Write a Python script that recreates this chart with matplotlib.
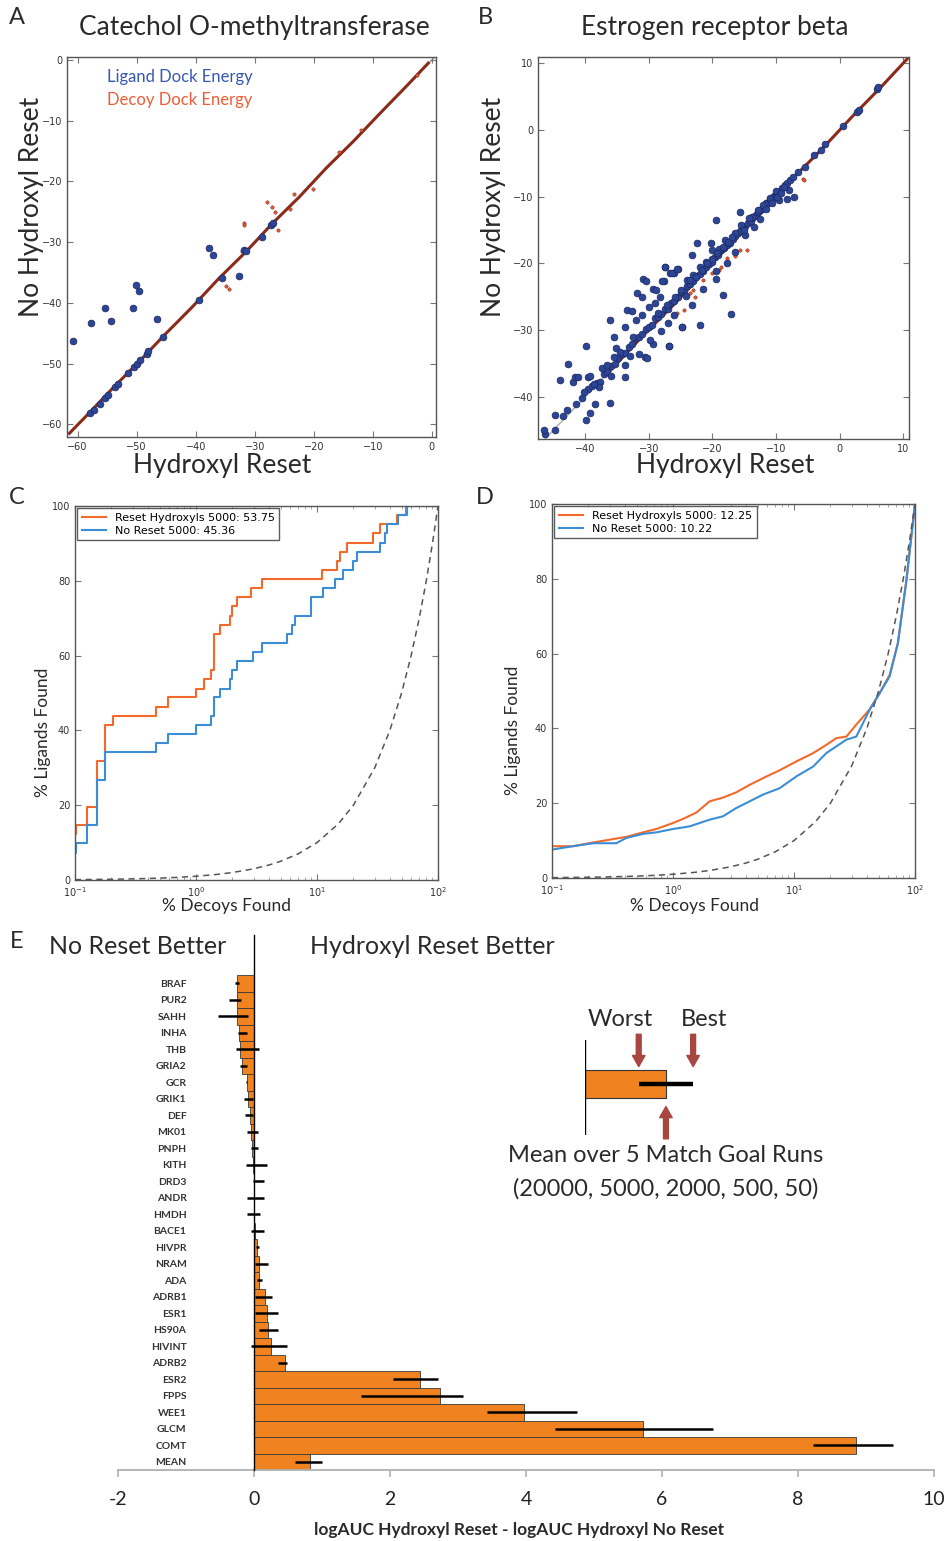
import numpy as np
import matplotlib.pyplot as plt
from matplotlib.ticker import FuncFormatter

# figure in pixels, saved at 100 dpi
W, H = 946, 1541
SANS = ['Lato', 'DejaVu Sans']

ORANGE = '#F26A2B'
BLUE = '#3B8ED6'
BAR_ORANGE = '#F0831F'
ARROW_RED = '#A84640'

# ---- A: Catechol O-methyltransferase, (hydroxyl reset, no hydroxyl reset) dock energies
comt_ligands = [(-60.85, -46.3), (-57.7, -43.3), (-55.4, -40.8), (-54.3, -43.0), (-50.7, -40.9),
                (-50.1, -37.0), (-49.6, -38.1), (-46.5, -42.7), (-37.7, -31.0), (-37.0, -32.1),
                (-32.6, -35.5), (-31.8, -31.3), (-57.9, -58.1), (-57.3, -57.6), (-56.2, -56.6),
                (-55.3, -55.7), (-54.9, -55.2), (-53.6, -53.8), (-53.1, -53.3), (-51.5, -51.6),
                (-50.5, -50.6), (-50.0, -50.1), (-49.4, -49.4), (-48.3, -48.4), (-48.0, -48.0),
                (-45.5, -45.6), (-39.4, -39.6), (-35.6, -35.9), (-31.4, -31.5), (-28.8, -29.1),
                (-27.3, -27.2), (-26.9, -26.9)]
comt_decoys_diag = [(-61.4, -61.5), (-57.8, -57.9), (-53.9, -53.9), (-49.6, -49.7), (-45.2, -45.2),
                    (-40.7, -40.8), (-36.1, -36.0), (-31.5, -31.6), (-27.0, -26.9), (-22.4, -22.5),
                    (-17.9, -17.8), (-13.3, -13.4), (-8.8, -8.8), (-4.2, -4.2), (-0.6, -0.5)]
comt_decoys_off = [(-28.0, -23.35), (-27.0, -24.2), (-26.5, -25.0), (-31.9, -26.8), (-31.9, -27.25),
                   (-26.0, -28.0), (-34.8, -37.2), (-34.3, -37.7), (-23.3, -22.0), (-20.1, -21.2),
                   (-15.7, -15.2), (-32.2, -31.5), (-24.0, -24.5), (-12.0, -11.6), (-2.5, -2.4)]

# ---- B: Estrogen receptor beta
erb_ligands = [
    # along the diagonal
    (-46.3, -45.6), (-44.8, -44.9), (-43.5, -42.8), (-41.5, -41.0), (-40.5, -40.2), (-39.6, -38.8),
    (-38.9, -38.4), (-38.2, -37.9), (-37.6, -37.8), (-37.0, -36.6), (-36.5, -36.2), (-36.0, -35.4),
    (-35.3, -35.0), (-34.8, -34.1), (-34.2, -33.5), (-33.7, -33.4), (-33.1, -32.5), (-32.6, -32.1),
    (-32.0, -31.2), (-31.5, -31.0), (-31.0, -30.6), (-30.5, -29.8), (-30.0, -29.6), (-29.5, -29.3),
    (-29.0, -28.2), (-28.5, -28.1), (-28.0, -27.6), (-27.5, -26.9), (-27.0, -26.8), (-26.5, -26.0),
    (-26.0, -25.6), (-25.4, -25.1), (-25.0, -24.3), (-24.5, -24.2), (-24.0, -23.4), (-23.5, -23.1),
    (-23.0, -22.7), (-22.5, -21.9), (-22.0, -21.6), (-21.5, -21.2), (-21.0, -20.5), (-20.6, -20.1),
    (-20.1, -19.8), (-19.6, -19.0), (-19.1, -18.8), (-18.6, -18.0), (-18.1, -17.7), (-17.7, -17.2),
    (-17.3, -16.9), (-16.8, -16.3), (-16.4, -15.9), (-16.0, -15.5), (-15.6, -15.2), (-15.2, -14.6),
    (-14.8, -14.4), (-14.4, -13.9), (-14.0, -13.6), (-13.6, -13.0), (-13.2, -12.8), (-12.8, -12.3),
    (-12.5, -12.0), (-12.2, -11.9), (-11.8, -11.4), (-11.5, -11.0), (-11.2, -10.9), (-10.9, -10.4),
    (-10.6, -10.3), (-10.3, -9.9), (-10.0, -9.7), (-9.7, -9.3), (-9.4, -9.1), (-9.0, -8.7),
    (-8.6, -8.3), (-8.2, -7.9), (-7.8, -7.5), (-7.3, -7.0), (-6.5, -6.3), (-5.5, -5.6),
    (-4.0, -3.7), (-3.0, -3.1), (-2.3, -2.2), (0.5, 0.6), (2.8, 2.6), (3.1, 3.0), (5.8, 6.1), (6.1, 6.4),
    # spread around the diagonal
    (-46.5, -44.9), (-44.7, -42.7), (-42.8, -41.9), (-42.7, -35.0), (-44.0, -37.5), (-41.9, -37.7),
    (-41.6, -37.0), (-41.1, -37.0), (-39.8, -32.4), (-39.5, -37.0), (-39.3, -36.9), (-37.4, -35.6),
    (-36.1, -28.5), (-35.4, -31.1), (-35.2, -32.7), (-33.7, -35.2), (-33.7, -37.0), (-33.7, -29.5),
    (-33.4, -27.0), (-32.7, -27.2), (-31.9, -24.5), (-31.1, -25.0), (-30.9, -22.4), (-30.4, -22.6),
    (-29.3, -23.9), (-28.8, -24.0), (-27.6, -22.6), (-27.5, -20.5), (-26.7, -21.5), (-26.1, -21.4),
    (-25.4, -20.9), (-27.2, -26.2), (-28.5, -27.5), (-27.4, -20.6), (-26.4, -21.5), (-25.6, -20.9),
    (-27.9, -22.6), (-23.2, -18.7), (-22.4, -16.9), (-20.2, -17.0), (-19.4, -13.5), (-15.6, -12.3),
    (-19.5, -21.2), (-17.7, -20.0), (-19.4, -22.4), (-18.3, -24.7), (-17.0, -27.6), (-23.2, -26.2),
    (-24.8, -29.5), (-22.0, -29.25), (-26.8, -32.35), (-21.4, -23.9), (-30.6, -34.0), (-30.2, -34.2),
    (-29.3, -32.0), (-26.8, -32.4), (-24.7, -29.5), (-16.4, -18.25), (-8.3, -10.3), (-7.2, -10.1),
    (-8.0, -9.0), (-39.9, -43.5), (-39.2, -42.4), (-38.5, -41.0), (-36.1, -40.9),
    (-32.0, -28.5), (-31.0, -27.8), (-30.0, -26.5), (-29.0, -26.0), (-28.2, -25.0), (-32.5, -31.0),
    (-29.8, -31.5), (-28.0, -30.2), (-31.5, -33.5), (-27.0, -29.0), (-26.0, -27.8), (-25.0, -24.0),
    (-24.0, -22.5), (-23.0, -21.8), (-22.0, -20.5), (-21.0, -19.8), (-20.0, -18.0), (-19.0, -17.8),
    (-18.0, -16.5), (-16.5, -15.5), (-15.5, -14.3), (-14.8, -15.8), (-13.5, -14.5), (-12.5, -13.3),
    (-11.0, -10.2), (-10.0, -9.2), (-9.5, -10.5), (-33.0, -33.8), (-34.5, -33.2), (-35.5, -34.0),
    (-36.5, -35.2), (-37.8, -38.5), (-38.6, -38.0), (-40.2, -39.2), (-36.0, -36.8), (-25.8, -25.0),
    (-24.2, -24.9), (-23.5, -22.5), (-22.6, -22.0), (-21.6, -21.0), (-20.8, -20.0), (-20.0, -19.4),
    (-19.2, -18.4), (-18.4, -17.5), (-17.6, -16.8), (-16.9, -16.0), (-13.8, -13.0), (-12.9, -12.0),
    (-12.0, -11.3), (-11.6, -11.9), (-10.6, -10.9), (-9.9, -10.0), (-9.2, -9.4), (-8.8, -8.5),
    (-14.2, -13.2), (-15.1, -15.0)]
erb_decoys_diag = [(-36.0, -36.0), (-31.2, -31.1), (-26.5, -26.6), (-21.7, -21.7), (-17.0, -16.9),
                   (-12.2, -12.3), (-7.5, -7.4), (-2.7, -2.8), (2.0, 2.0), (6.8, 6.7), (10.8, 10.8)]
erb_decoys_off = [(-15.6, -18.0), (-16.4, -18.9), (-17.7, -19.2), (-18.7, -20.5), (-19.0, -21.0),
                  (-22.7, -25.0), (-23.5, -24.5), (-5.7, -7.4), (-14.5, -18.0), (-20.0, -21.5),
                  (-24.5, -27.0), (-25.5, -27.5), (-21.5, -22.5), (-5.6, -7.5), (-23.0, -24.0)]

# ---- C / D: enrichment curves, % decoys found vs % ligands found
comt_reset_x = [0.1, 0.102, 0.126, 0.153, 0.178, 0.207, 0.465, 0.59, 1.0, 1.17, 1.33, 1.40, 1.42, 1.58,
                1.9, 1.97, 2.17, 2.83, 3.49, 11.1, 14.5, 15.5, 17.6, 29.2, 33.1, 45.5, 54.4, 100]
comt_reset_y = [12.2, 14.6, 19.5, 31.7, 41.5, 43.9, 46.3, 48.8, 51.2, 53.7, 56.1, 63.4, 65.9, 68.3,
                70.7, 73.2, 75.6, 78.0, 80.5, 82.9, 85.4, 87.8, 90.2, 92.7, 95.1, 97.6, 100, 100]
comt_noreset_x = [0.1, 0.101, 0.126, 0.153, 0.178, 0.465, 0.59, 1.0, 1.33, 1.42, 1.58, 1.9, 1.97, 2.17,
                  2.98, 3.49, 5.6, 6.2, 6.6, 9.0, 11.3, 14.1, 16.5, 20.0, 21.3, 33.1, 36.5, 37.7,
                  47.0, 55.0, 100]
comt_noreset_y = [7.3, 9.8, 14.6, 26.8, 34.1, 36.6, 39.0, 41.5, 43.9, 48.8, 51.2, 53.7, 56.1, 58.5,
                  61.0, 63.4, 65.9, 68.3, 70.7, 75.6, 78.0, 80.5, 82.9, 85.4, 87.8, 90.2, 92.7, 95.1,
                  97.6, 100, 100]
erb_reset_x = [0.1, 0.149, 0.219, 0.319, 0.411, 0.565, 0.728, 1.0, 1.21, 1.56, 2.01, 2.59, 3.33, 4.3,
               5.54, 7.6, 10.5, 14.4, 18.5, 22.4, 27.1, 32.7, 42.2, 51, 61.7, 72.2, 85, 100]
erb_reset_y = [8.5, 8.5, 9.5, 10.4, 11.0, 12.2, 13.1, 14.7, 15.8, 17.5, 20.5, 21.5, 22.9, 24.9,
               26.7, 28.8, 31.2, 33.4, 35.6, 37.4, 37.8, 41.0, 45.1, 49.4, 54.3, 62.8, 79.7, 100]
erb_noreset_x = [0.1, 0.149, 0.219, 0.34, 0.411, 0.565, 0.728, 1.0, 1.37, 2.01, 2.59, 3.33, 4.3, 5.54,
                 7.6, 10.5, 14.4, 18.5, 22.4, 27.1, 32.7, 42.2, 51, 61.7, 72.2, 85, 100]
erb_noreset_y = [7.6, 8.5, 9.3, 9.3, 10.7, 11.8, 12.2, 13.1, 13.8, 15.6, 16.5, 18.7, 20.5, 22.3,
                 24.0, 27.2, 29.8, 33.4, 35.2, 37.0, 37.8, 45.0, 49.4, 53.9, 62.8, 79.7, 100]
random_pct = [0.1, 0.2, 0.3, 0.5, 0.7, 1, 1.5, 2, 3, 4, 5, 7, 10, 15, 20, 30, 40, 50, 60, 70, 80, 90, 100]
comt_labels = ['Reset Hydroxyls 5000: 53.75', 'No Reset 5000: 45.36']
erb_labels = ['Reset Hydroxyls 5000: 12.25', 'No Reset 5000: 10.22']

# ---- E: logAUC difference per target
targets = ['BRAF', 'PUR2', 'SAHH', 'INHA', 'THB', 'GRIA2', 'GCR', 'GRIK1', 'DEF', 'MK01',
           'PNPH', 'KITH', 'DRD3', 'ANDR', 'HMDH', 'BACE1', 'HIVPR', 'NRAM', 'ADA', 'ADRB1',
           'ESR1', 'HS90A', 'HIVINT', 'ADRB2', 'ESR2', 'FPPS', 'WEE1', 'GLCM', 'COMT', 'MEAN']
delta_logauc = [-0.254, -0.245, -0.245, -0.22, -0.20, -0.18, -0.11, -0.09, -0.065, -0.04,
                -0.025, -0.015, -0.005, 0.002, 0.005, 0.02, 0.04, 0.07, 0.08, 0.16,
                0.19, 0.21, 0.25, 0.46, 2.44, 2.74, 3.97, 5.72, 8.86, 0.83]
err_low = [0.02, 0.12, 0.29, 0.01, 0.07, 0.02, 0.01, 0.06, 0.07, 0.07,
           0.015, 0.10, 0.01, 0.10, 0.11, 0.06, 0.01, 0.06, 0.035, 0.15,
           0.18, 0.13, 0.30, 0.10, 0.40, 1.16, 0.55, 1.30, 0.64, 0.23]
err_high = [0.03, 0.05, 0.15, 0.12, 0.28, 0.08, 0.01, 0.075, 0.05, 0.10,
            0.085, 0.21, 0.15, 0.15, 0.08, 0.13, 0.04, 0.13, 0.04, 0.10,
            0.16, 0.14, 0.24, 0.03, 0.27, 0.33, 0.78, 1.03, 0.53, 0.17]
# schematic bar of the key: mean, worst run, best run
key_mean, key_worst, key_best = 1.19, 0.79, 1.59

fig = plt.figure(figsize=(W / 100, H / 100), dpi=100)


def px_axes(left, top, right, bottom):
    return fig.add_axes([left / W, 1 - bottom / H, (right - left) / W, (bottom - top) / H])


def ftext(x, y, s, size, ha='center', **kw):
    fig.text(x / W, 1 - y / H, s, ha=ha, va='center', fontsize=size, family=SANS,
             color=kw.pop('color', '#2a2a2a'), **kw)


def frame(ax):
    for sp in ax.spines.values():
        sp.set_color('#555555')
        sp.set_linewidth(1.0)
    ax.tick_params(direction='in', top=True, right=True, labelsize=7, labelcolor='#333333',
                   color='#777777', length=4)
    ax.tick_params(which='minor', direction='in', top=True, right=True, color='#999999', length=2)


def energy_panel(ax, ligands, decoys_diag, decoys_off, lim_x, lim_y, ticks):
    ax.axline((0, 0), slope=1, color='#b8b8b8', lw=1.2, zorder=1)
    dx, dy = zip(*decoys_diag)
    ax.plot(dx, dy, color='#8a2c1c', lw=2.2, zorder=2)
    ox, oy = zip(*decoys_off)
    ax.scatter(ox, oy, s=6, color='#e4572e', edgecolors='#6a2415', linewidths=0.3, zorder=2)
    lx, ly = zip(*ligands)
    ax.scatter(lx, ly, s=24, color='#2d4595', edgecolors='#1b2862', linewidths=0.5, zorder=3)
    ax.set_xlim(lim_x)
    ax.set_ylim(lim_y)
    ax.set_xticks(ticks)
    ax.set_yticks(ticks)
    frame(ax)


def enrichment_panel(ax, rx, ry, nx, ny, labels, steps):
    ds = 'steps-post' if steps else 'default'
    ax.plot(rx, ry, color=ORANGE, lw=1.5, drawstyle=ds, label=labels[0])
    ax.plot(nx, ny, color=BLUE, lw=1.5, drawstyle=ds, label=labels[1])
    ax.plot(random_pct, random_pct, color='#555555', lw=1.1, ls=(0, (4, 3)))
    ax.set_xscale('log')
    ax.set_xlim(0.1, 100)
    ax.set_ylim(0, 100)
    ax.set_yticks(range(0, 101, 20))
    frame(ax)
    leg = ax.legend(loc='upper left', fontsize=8, frameon=True, fancybox=False,
                    borderaxespad=0.2, handlelength=2.2, borderpad=0.4, labelspacing=0.3)
    leg.get_frame().set_edgecolor('#333333')
    leg.get_frame().set_linewidth(1.0)


# A
axA = px_axes(67, 57, 436, 437)
energy_panel(axA, comt_ligands, comt_decoys_diag, comt_decoys_off,
             (-61.8, 0.7), (-62.1, 0.5), range(-60, 1, 10))
ftext(17, 17, 'A', 17)
ftext(254, 27, 'Catechol O-methyltransferase', 19)
ftext(32, 207, 'No Hydroxyl Reset', 19, rotation=90)
ftext(222, 466, 'Hydroxyl Reset', 19)
ftext(107, 77, 'Ligand Dock Energy', 12, ha='left', color='#3558b2')
ftext(107, 100, 'Decoy Dock Energy', 12, ha='left', color='#ee5d38')

# B
axB = px_axes(538, 57, 909, 439)
energy_panel(axB, erb_ligands, erb_decoys_diag, erb_decoys_off,
             (-47.4, 10.9), (-46.3, 10.9), range(-40, 11, 10))
ftext(485, 17, 'B', 17)
ftext(715, 27, 'Estrogen receptor beta', 19)
ftext(493, 207, 'No Hydroxyl Reset', 19, rotation=90)
ftext(725, 466, 'Hydroxyl Reset', 19)

# C
axC = px_axes(75, 506, 438, 880)
enrichment_panel(axC, comt_reset_x, comt_reset_y, comt_noreset_x, comt_noreset_y, comt_labels, True)
ftext(17, 498, 'C', 17)
ftext(43, 732, '% Ligands Found', 12.5, rotation=90)
ftext(226, 906, '% Decoys Found', 12.5)

# D
axD = px_axes(552, 504, 915, 878)
enrichment_panel(axD, erb_reset_x, erb_reset_y, erb_noreset_x, erb_noreset_y, erb_labels, False)
ftext(485, 497, 'D', 17)
ftext(513, 730, '% Ligands Found', 12.5, rotation=90)
ftext(694, 906, '% Decoys Found', 12.5)

# E
axE = px_axes(118, 975, 934, 1470)
# spine moves reset the ticks, so do them before styling the labels
axE.spines['left'].set_position(('data', -0.95))
axE.spines['left'].set_visible(False)
axE.spines['top'].set_visible(False)
axE.spines['right'].set_visible(False)
axE.spines['bottom'].set_color('#b0b0b0')
axE.spines['bottom'].set_linewidth(1.3)
ypos = np.arange(len(targets))
axE.barh(ypos, delta_logauc, height=1.0, color=BAR_ORANGE, edgecolor='#3a3a3a', linewidth=0.6, zorder=2)
axE.errorbar(delta_logauc, ypos, xerr=[err_low, err_high], fmt='none', ecolor='black',
             elinewidth=1.8, capsize=0, zorder=3)
axE.axvline(0, ymin=0, ymax=(1470 - 935) / (1470 - 975), color='black', lw=1, clip_on=False, zorder=4)
axE.set_xlim(-2, 10)
axE.set_ylim(len(targets) - 0.5, -0.5)
axE.set_xticks(range(-2, 11, 2))
axE.xaxis.set_major_formatter(FuncFormatter(lambda v, p: f'{v:g}'))
axE.set_yticks(ypos, targets)
axE.tick_params(axis='y', length=0, pad=2, labelsize=7.5, labelcolor='#333333')
axE.tick_params(axis='x', direction='out', length=5, color='#b0b0b0', width=1.2, pad=10,
                labelsize=14, labelcolor='#222222')
for lab in axE.get_yticklabels():
    lab.set_family(SANS)
    lab.set_fontweight('bold')
for lab in axE.get_xticklabels():
    lab.set_family(SANS)
axE.patch.set_alpha(0)
ftext(17, 942, 'E', 17)
ftext(138, 947, 'No Reset Better', 18)
ftext(432, 947, 'Hydroxyl Reset Better', 18)
ftext(519, 1530, 'logAUC Hydroxyl Reset - logAUC Hydroxyl No Reset', 12.5, fontweight='bold')

# key for panel E
axK = px_axes(585, 1040, 760, 1135)
axK.set_xlim(0, 175 / 68)
axK.set_ylim(0, 1)
axK.axis('off')
axK.axvline(0, color='black', lw=1)
axK.barh(0.537, key_mean, height=0.295, color=BAR_ORANGE, edgecolor='#333333', linewidth=0.8)
axK.errorbar(key_mean, 0.537, xerr=[[key_mean - key_worst], [key_best - key_mean]], fmt='none',
             ecolor='black', elinewidth=3.2, capsize=0)
arrow = dict(arrowstyle='simple,head_width=0.9,head_length=0.8,tail_width=0.35',
             color=ARROW_RED, shrinkA=0, shrinkB=0, mutation_scale=10)
for xv in (key_worst, key_best):
    axK.annotate('', xy=(xv, 0.72), xytext=(xv, 1.06), arrowprops=arrow, annotation_clip=False)
axK.annotate('', xy=(key_mean, 0.30), xytext=(key_mean, -0.04), arrowprops=arrow, annotation_clip=False)
ftext(620, 1020, 'Worst', 17)
ftext(704, 1020, 'Best', 17)
ftext(666, 1156, 'Mean over 5 Match Goal Runs', 17)
ftext(666, 1189, '(20000, 5000, 2000, 500, 50)', 17)

fig.savefig('out.png', dpi=100)
